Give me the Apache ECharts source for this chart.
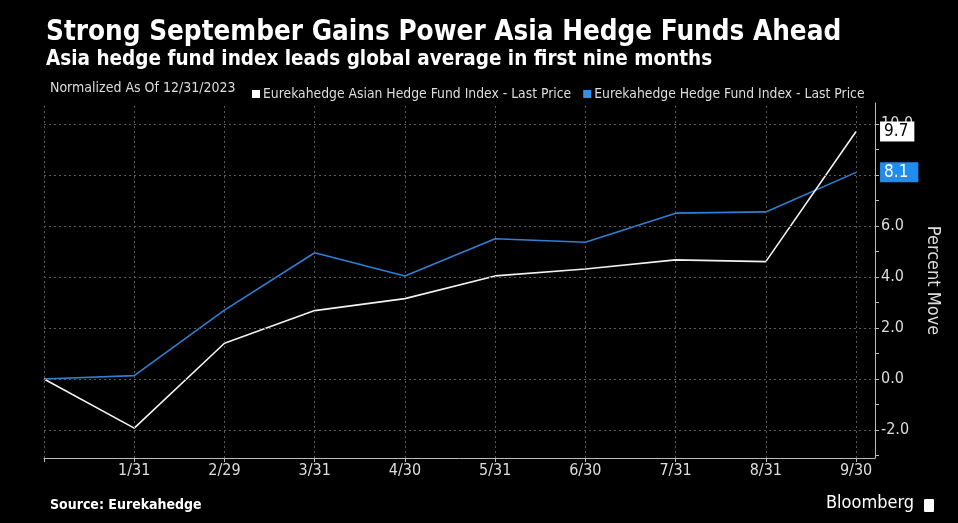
<!DOCTYPE html>
<html>
<head>
<meta charset="utf-8">
<script src="https://cdn.jsdelivr.net/npm/echarts@6/dist/echarts.min.js"></script>
<style>
  html, body { margin: 0; padding: 0; background: #000; }
  #container1 { width: 958px; height: 523px; }
</style>
</head>
<body>
<div id="container1"></div>
<script>
var FONT = "'DejaVu Sans Condensed', 'Liberation Sans Narrow', 'DejaVu Sans', sans-serif";

// month-end dates, 12/31/2023 is the base
var dates = ['12/31', '1/31', '2/29', '3/31', '4/30', '5/31', '6/30', '7/31', '8/31', '9/30'];
var asianIndex = [0, -1.93, 1.4, 2.68, 3.15, 4.04, 4.31, 4.67, 4.6, 9.7];
var globalIndex = [0, 0.13, 2.7, 4.95, 4.04, 5.5, 5.36, 6.5, 6.55, 8.1];
var yTicks = [-2, 0, 2, 4, 6, 8, 10];
var yMinorTicks = [-3, -2, -1, 0, 1, 2, 3, 4, 5, 6, 7, 8, 9, 10];
var xLabelIdx = [1, 2, 3, 4, 5, 6, 7, 8, 9];
var xGridIdx = [0, 1, 2, 3, 4, 5, 6, 7, 8, 9];

function pairs(vals) {
    return vals.map(function (v, i) { return [i, v]; });
}

var gridLines = [];
yTicks.forEach(function (v) { gridLines.push({ yAxis: v }); });
xGridIdx.forEach(function (i) { gridLines.push({ xAxis: i }); });

var dom = document.getElementById("container1");
var myChart = echarts.init(dom);
var option = {
    backgroundColor: '#000',
    textStyle: { fontFamily: FONT },
    title: {
        text: 'Strong September Gains Power Asia Hedge Funds Ahead',
        subtext: 'Asia hedge fund index leads global average in first nine months',
        left: 41,
        top: 14,
        itemGap: 2,
        textStyle: { color: '#fff', fontSize: 27.6, fontWeight: 'bold', fontFamily: FONT },
        subtextStyle: { color: '#fff', fontSize: 20.5, fontWeight: 'bold', fontFamily: FONT }
    },
    legend: {
        left: 247,
        top: 82,
        icon: 'rect',
        itemWidth: 8,
        itemHeight: 8,
        itemGap: 12,
        textStyle: { color: '#ddd', fontSize: 13.8, fontFamily: FONT, padding: [0, 0, 0, -2] },
        data: ['Eurekahedge Asian Hedge Fund Index - Last Price', 'Eurekahedge Hedge Fund Index - Last Price']
    },
    graphic: [
        {
            type: 'text', left: 50, top: 81,
            style: { text: 'Normalized As Of 12/31/2023', fill: '#ddd', font: '14px ' + FONT }
        },
        {
            type: 'text', left: 50, top: 498,
            style: { text: 'Source: Eurekahedge', fill: '#fff', font: 'bold 14px ' + FONT }
        },
        {
            type: 'text', left: 826, top: 494,
            style: { text: 'Bloomberg', fill: '#fff', font: '18px ' + FONT }
        },
        {
            type: 'rect', left: 924, top: 499,
            shape: { width: 10, height: 13, r: 1 },
            style: { fill: '#fff' }
        }
    ],
    grid: { left: 44, right: 83, top: 103, bottom: 65 },
    xAxis: {
        type: 'value',
        min: 0,
        max: 9.21,
        axisLine: { onZero: false, lineStyle: { color: '#bbb', width: 1 } },
        axisTick: { customValues: xGridIdx, length: 4, lineStyle: { color: '#bbb' } },
        axisLabel: {
            customValues: xLabelIdx,
            color: '#ddd',
            fontSize: 16,
            margin: 5,
            fontFamily: FONT,
            formatter: function (v) { return dates[Math.round(v)]; }
        },
        splitLine: { show: false }
    },
    yAxis: {
        type: 'value',
        position: 'right',
        min: -3.1,
        max: 10.82,
        name: 'Percent Move',
        nameLocation: 'middle',
        nameRotate: -90,
        nameGap: 44,
        nameTextStyle: { color: '#ddd', fontSize: 18, fontFamily: FONT },
        axisLine: { show: true, onZero: false, lineStyle: { color: '#bbb', width: 1 } },
        axisTick: { show: true, customValues: yMinorTicks, length: 4, lineStyle: { color: '#bbb' } },
        axisLabel: {
            customValues: yTicks,
            color: '#ddd',
            fontSize: 16,
            margin: 6,
            fontFamily: FONT,
            formatter: function (v) { return v.toFixed(1); }
        },
        splitLine: { show: false }
    },
    series: [
        {
            name: 'grid',
            type: 'line',
            data: [],
            z: 1,
            silent: true,
            markLine: {
                silent: true,
                symbol: 'none',
                label: { show: false },
                lineStyle: { color: '#5a5a5a', type: [2, 3], width: 1 },
                data: gridLines
            }
        },
        {
            name: 'Eurekahedge Asian Hedge Fund Index - Last Price',
            type: 'line',
            data: pairs(asianIndex),
            symbol: 'none',
            z: 3,
            lineStyle: { color: '#f2f2f2', width: 1.6 },
            itemStyle: { color: '#fff' },
            endLabel: {
                show: true,
                distance: 24,
                formatter: function (p) { return p.value[1].toFixed(1); },
                color: '#000',
                backgroundColor: '#fff',
                fontSize: 17,
                fontFamily: FONT,
                padding: [2, 6, 1, 4]
            }
        },
        {
            name: 'Eurekahedge Hedge Fund Index - Last Price',
            type: 'line',
            data: pairs(globalIndex),
            symbol: 'none',
            z: 2,
            lineStyle: { color: '#2f7fd3', width: 1.6 },
            itemStyle: { color: '#2f8ff0' },
            endLabel: {
                show: true,
                distance: 24,
                formatter: function (p) { return p.value[1].toFixed(1); },
                color: '#fff',
                backgroundColor: '#1f8cf0',
                fontSize: 17,
                fontFamily: FONT,
                padding: [2, 10, 1, 4]
            }
        }
    ]
};

if (option && typeof option === "object") {
    myChart.setOption(option, true);
}
</script>
</body>
</html>
